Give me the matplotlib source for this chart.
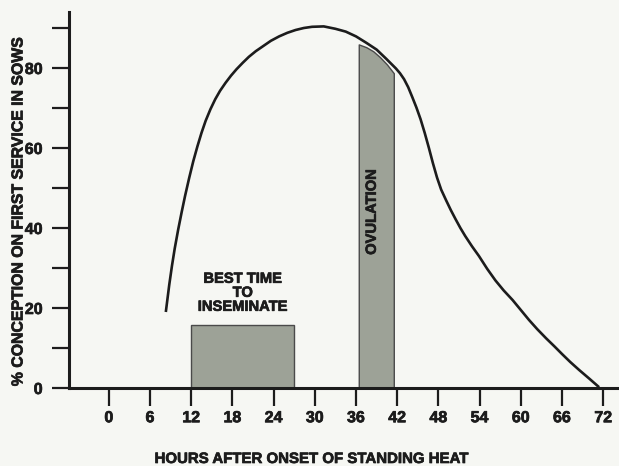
import numpy as np
import matplotlib
matplotlib.use('Agg')
import matplotlib.pyplot as plt
import matplotlib.patheffects as pe
from matplotlib.ticker import MultipleLocator

# conception curve
hours = [8.3, 8.8, 9.2, 9.6, 10.1, 10.6, 11.1, 11.7, 12.3, 12.9, 13.5, 14.1,
         14.8, 15.5, 16.2, 17.0, 17.8, 18.6, 19.5, 20.4, 21.4, 22.5, 23.6, 24.8,
         26.0, 27.2, 28.4, 29.6, 31.3, 33.0, 34.5, 36.0, 37.5, 39.0, 40.4,
         41.8, 42.4, 43.0, 43.6, 44.2, 44.8, 45.4, 46.0, 46.6, 47.2, 47.8, 48.4,
         49.1, 49.8, 50.5, 51.2, 51.9, 52.9, 53.9, 55.1, 56.3, 57.5, 58.8, 60.0,
         61.2, 62.4, 63.7, 64.9, 66.0, 67.2, 68.5, 70.0, 71.4]
conception = [19.0, 25.8, 30.6, 34.9, 39.6, 43.9, 48.0, 52.5, 56.7, 60.4, 63.8, 66.8,
              69.7, 72.2, 74.3, 76.3, 78.1, 79.7, 81.3, 82.8, 84.2, 85.5, 86.8, 87.9,
              88.8, 89.5, 90.0, 90.3, 90.4, 89.8, 89.1, 87.9, 86.3, 84.6, 82.3,
              79.9, 78.7, 77.2, 75.2, 72.7, 70.1, 67.2, 63.8, 60.1, 56.2, 52.6, 49.6,
              47.0, 44.5, 42.2, 40.0, 38.0, 35.4, 33.0, 29.8, 26.9, 24.4, 22.0, 19.5,
              17.0, 14.7, 12.4, 10.4, 8.5, 6.5, 4.5, 2.3, 0.2]

# "best time to inseminate" block
insem_start = 12
insem_end = 27
insem_height = 15.8

# ovulation block (top edge follows the curve)
ovu_x = [36.4, 37.5, 38.5, 39.5, 40.5, 41.5]
ovu_top = [85.9, 85.2, 84.2, 82.7, 80.9, 78.7]

xticks = [0, 6, 12, 18, 24, 30, 36, 42, 48, 54, 60, 66, 72]
yticks = [0, 20, 40, 60, 80]

plt.rcParams['font.family'] = ['Liberation Sans', 'DejaVu Sans']
plt.rcParams['font.weight'] = 'bold'
ink = '#1c1c1c'
paper = '#f6f7f3'
fill = '#9da297'
heavy = [pe.withStroke(linewidth=0.5, foreground=ink)]

fig = plt.figure(figsize=(6.19, 4.66), dpi=100, facecolor=paper)
ax = fig.add_axes([69 / 619, 78 / 466, 550 / 619, 376 / 466])
ax.set_facecolor(paper)

ax.bar(insem_start, insem_height, width=insem_end - insem_start, align='edge',
       color=fill, edgecolor='#4a4a4a', lw=1, zorder=2)
ax.fill_between(ovu_x, 0, ovu_top, color=fill, edgecolor='#4a4a4a', lw=1, zorder=2)

ax.plot(hours, conception, color=ink, lw=1.9, zorder=3,
        solid_capstyle='butt', solid_joinstyle='round')

ax.text(19.5, 23.8, 'BEST TIME\nTO\nINSEMINATE', ha='center', va='center',
        fontsize=10.6, fontweight='bold', color=ink, linespacing=1.0,
        path_effects=heavy)
ax.text(38.3, 44, 'OVULATION', rotation=90, ha='center', va='center',
        fontsize=10.6, fontweight='bold', color=ink, zorder=4, path_effects=heavy)

ax.set_xlim(-5.8, 74.3)
ax.set_ylim(0, 94)
ax.set_xticks(xticks)
ax.set_xticklabels([str(t) for t in xticks])
ax.set_yticks(yticks)
ax.set_yticklabels([str(t) for t in yticks])
ax.yaxis.set_minor_locator(MultipleLocator(10))

for side in ['top', 'right']:
    ax.spines[side].set_visible(False)
for side in ['left', 'bottom']:
    ax.spines[side].set_linewidth(2.2)
    ax.spines[side].set_color(ink)
    ax.spines[side].set_capstyle('projecting')

ax.tick_params(axis='y', which='both', direction='out', length=12, width=1.6,
               color=ink, pad=7, labelsize=11.5, labelcolor=ink)
ax.tick_params(axis='x', which='major', direction='out', length=13, width=1.6,
               color=ink, pad=3, labelsize=11.5, labelcolor=ink)
for lab in ax.get_xticklabels() + ax.get_yticklabels():
    lab.set_path_effects(heavy)

fig.text(18 / 619, 1 - 212 / 466, '% CONCEPTION ON FIRST SERVICE IN SOWS',
         rotation=90, ha='center', va='center', fontsize=11.4, fontweight='bold',
         color=ink, path_effects=heavy)
fig.text(311 / 619, 7 / 466, 'HOURS AFTER ONSET OF STANDING HEAT',
         ha='center', va='center', fontsize=10.8, fontweight='bold', color=ink,
         path_effects=heavy)

fig.savefig('out.png', dpi=100, facecolor=paper)
